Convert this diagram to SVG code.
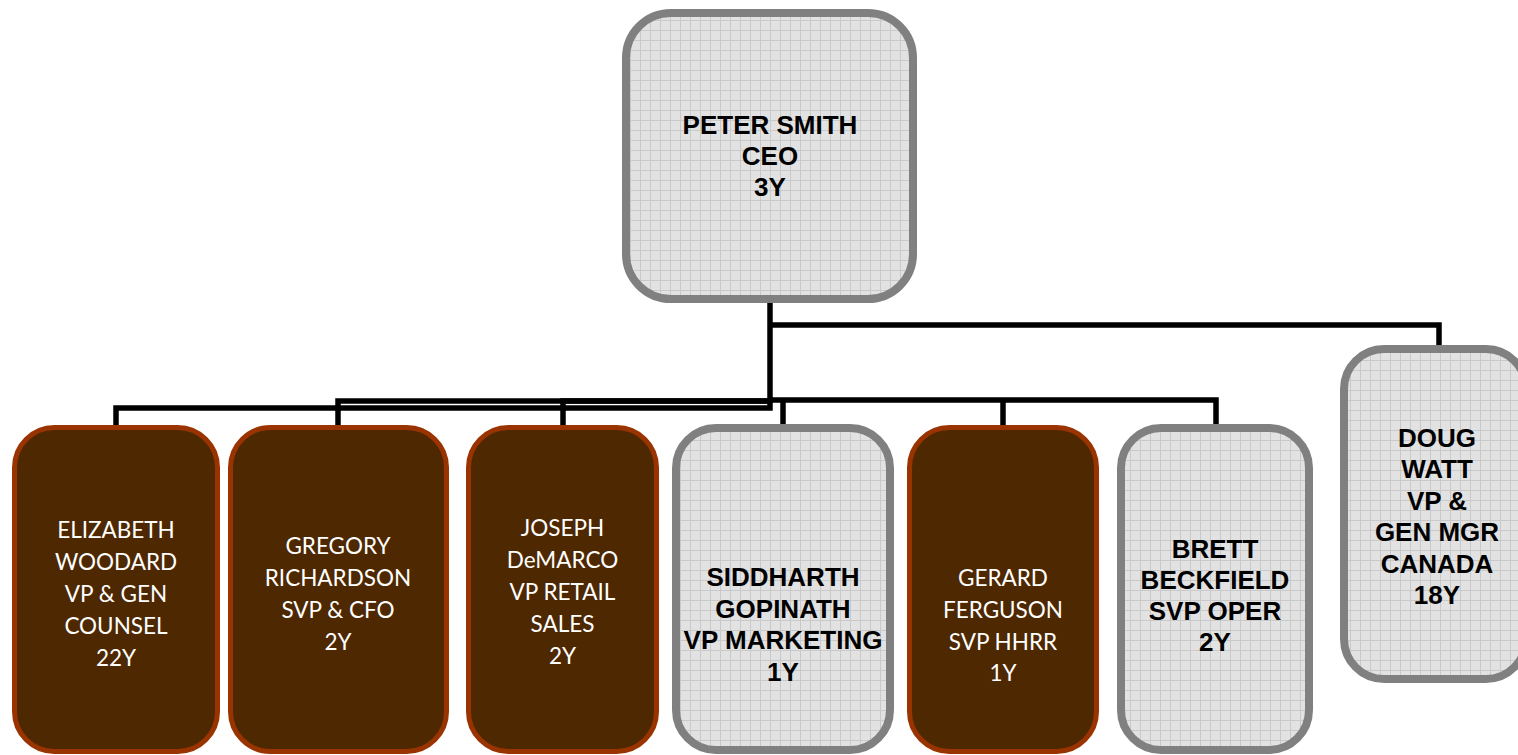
<svg xmlns="http://www.w3.org/2000/svg" width="1518" height="755" viewBox="0 0 1518 755">
<style>
.gray{fill:url(#grid);stroke:#808080;stroke-width:8}
.brown{fill:#4e2800;stroke:#993300;stroke-width:5}
.conn{fill:none;stroke:#000;stroke-width:5.5;stroke-linejoin:miter;stroke-linecap:butt}
.w{font-family:Lato,"Liberation Sans",sans-serif;font-size:22.5px;fill:#fff;text-anchor:middle}
.b{font-family:"Liberation Sans",Arial,sans-serif;font-weight:bold;font-size:26px;fill:#000;text-anchor:middle}
</style>
<defs>
<pattern id="grid" patternUnits="userSpaceOnUse" width="10" height="10">
<rect width="10" height="10" fill="#e2e2e2"/>
<path d="M0 0.5H10M0.5 0V10" stroke="#c9c9c9" stroke-width="1"/>
</pattern>
</defs>
<rect width="1518" height="755" fill="#fff"/>
<g id="connectors">
<polyline class="conn" points="770,300 770,408 116,408 116,428"/>
<polyline class="conn" points="770,401 338,401 338,428"/>
<polyline class="conn" points="770,401 563,401 563,428"/>
<polyline class="conn" points="770,400 1216,400 1216,428"/>
<polyline class="conn" points="783,400 783,428"/>
<polyline class="conn" points="1003,400 1003,428"/>
<polyline class="conn" points="770,325 1439,325 1439,348"/>
</g>
<g id="ceo">
<rect class="gray" x="626" y="13" width="287" height="286" rx="45"/>
<text class="b" x="770" y="134">PETER SMITH</text>
<text class="b" x="770" y="165">CEO</text>
<text class="b" x="770" y="196">3Y</text>
</g>
<g id="elizabeth">
<rect class="brown" x="14.5" y="427.5" width="203" height="324" rx="40"/>
<text class="w" x="116" y="538">ELIZABETH</text>
<text class="w" x="116" y="570">WOODARD</text>
<text class="w" x="116" y="602">VP &amp; GEN</text>
<text class="w" x="116" y="634">COUNSEL</text>
<text class="w" x="116" y="666">22Y</text>
</g>
<g id="gregory">
<rect class="brown" x="230.5" y="427.5" width="216" height="324" rx="40"/>
<text class="w" x="338" y="554">GREGORY</text>
<text class="w" x="338" y="586">RICHARDSON</text>
<text class="w" x="338" y="618">SVP &amp; CFO</text>
<text class="w" x="338" y="650">2Y</text>
</g>
<g id="joseph">
<rect class="brown" x="468.5" y="427.5" width="188" height="324" rx="40"/>
<text class="w" x="562.5" y="536">JOSEPH</text>
<text class="w" x="562.5" y="568">DeMARCO</text>
<text class="w" x="562.5" y="600">VP RETAIL</text>
<text class="w" x="562.5" y="632">SALES</text>
<text class="w" x="562.5" y="664">2Y</text>
</g>
<g id="siddharth">
<rect class="gray" x="676" y="428" width="214" height="322" rx="40"/>
<text class="b" x="783" y="586">SIDDHARTH</text>
<text class="b" x="783" y="618">GOPINATH</text>
<text class="b" x="783" y="649">VP MARKETING</text>
<text class="b" x="783" y="681">1Y</text>
</g>
<g id="gerard">
<rect class="brown" x="909.5" y="427.5" width="187" height="324" rx="40"/>
<text class="w" x="1003" y="586">GERARD</text>
<text class="w" x="1003" y="618">FERGUSON</text>
<text class="w" x="1003" y="650">SVP HHRR</text>
<text class="w" x="1003" y="681">1Y</text>
</g>
<g id="brett">
<rect class="gray" x="1121" y="428" width="188" height="322" rx="40"/>
<text class="b" x="1215" y="558">BRETT</text>
<text class="b" x="1215" y="589">BECKFIELD</text>
<text class="b" x="1215" y="620">SVP OPER</text>
<text class="b" x="1215" y="651">2Y</text>
</g>
<g id="doug">
<rect class="gray" x="1344" y="349" width="182" height="330" rx="40"/>
<text class="b" x="1437" y="447">DOUG</text>
<text class="b" x="1437" y="478">WATT</text>
<text class="b" x="1437" y="510">VP &amp;</text>
<text class="b" x="1437" y="541">GEN MGR</text>
<text class="b" x="1437" y="573">CANADA</text>
<text class="b" x="1437" y="604">18Y</text>
</g>
</svg>
